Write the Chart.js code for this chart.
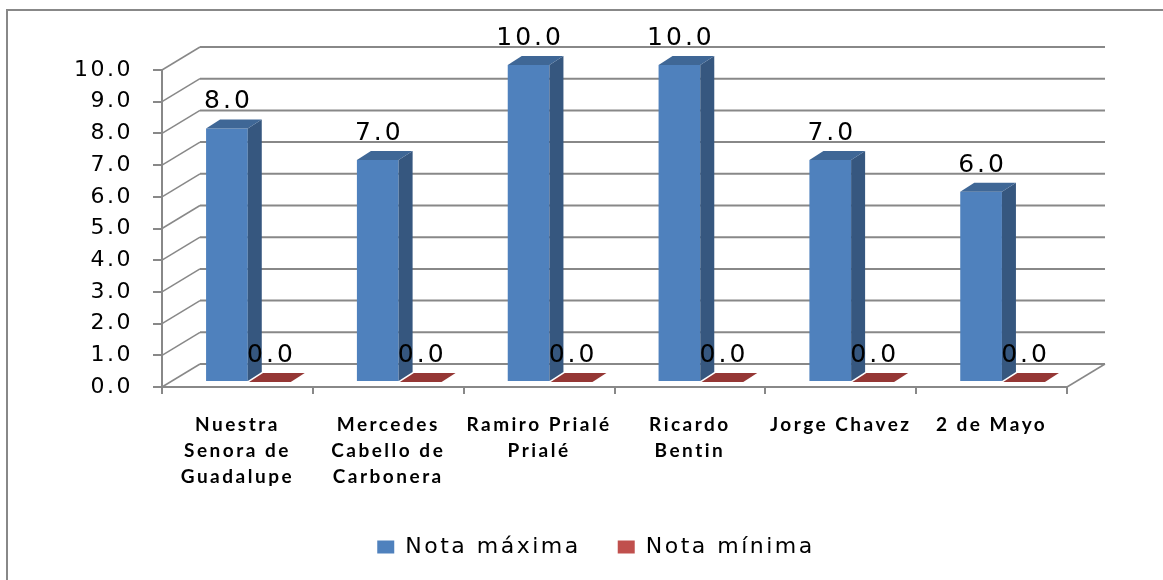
<!DOCTYPE html>
<html>
<head>
<meta charset="utf-8">
<script src="https://cdn.jsdelivr.net/npm/chart.js@4.4.0/dist/chart.umd.min.js"></script>
<style>
    html, body { margin: 0; padding: 0; background: #fff; }
    #wrap { width: 1163px; height: 580px; position: relative; }
</style>
</head>
<body>
<div id="wrap"><canvas id="notasChart"></canvas></div>
<script>
const categorias = [
    ['Nuestra', 'Senora de', 'Guadalupe'],
    ['Mercedes', 'Cabello de', 'Carbonera'],
    ['Ramiro Prialé', 'Prialé'],
    ['Ricardo', 'Bentin'],
    ['Jorge Chavez'],
    ['2 de Mayo']
];
const notaMaxima = [8, 7, 10, 10, 7, 6];
const notaMinima = [0, 0, 0, 0, 0, 0];
const series = ['Nota máxima', 'Nota mínima'];

const GRIS = '#888888';
const PARED = { dx: 38, dy: -23 };   // fondo del grafico
const BARRA = { dx: 11, dy: -5 };    // plano frontal de las barras
const FONDO = { dx: 14, dy: -9 };    // profundidad de cada barra
const caras = [
    { lado: '#36577f', tapa: '#3f6796' },
    { lado: '#7a2c2a', tapa: '#953735' }
];

function poligono(ctx, pts, color) {
    ctx.beginPath();
    ctx.moveTo(pts[0][0], pts[0][1]);
    pts.slice(1).forEach(p => ctx.lineTo(p[0], p[1]));
    ctx.closePath();
    ctx.fillStyle = color;
    ctx.fill();
}

const tresD = {
    id: 'tresD',
    beforeLayout(chart) {
        chart.ctx.letterSpacing = '2.5px';
    },
    beforeDraw(chart) {
        const ctx = chart.ctx;
        const { left, right, bottom } = chart.chartArea;
        const y = chart.scales.y;
        ctx.save();
        ctx.fillStyle = '#fff';
        ctx.fillRect(0, 0, chart.width, chart.height);
        ctx.strokeStyle = GRIS;
        ctx.lineWidth = 2;
        ctx.strokeRect(7, 10, chart.width, chart.height);
        y.ticks.forEach(t => {
            const py = y.getPixelForValue(t.value);
            ctx.lineWidth = 2;
            ctx.beginPath();
            ctx.moveTo(left + PARED.dx, py + PARED.dy);
            ctx.lineTo(right + PARED.dx, py + PARED.dy);
            ctx.stroke();
            ctx.lineWidth = 1.5;
            ctx.beginPath();
            ctx.moveTo(left, py);
            ctx.lineTo(left + PARED.dx, py + PARED.dy);
            ctx.stroke();
        });
        ctx.beginPath();
        ctx.moveTo(right, bottom);
        ctx.lineTo(right + PARED.dx, bottom + PARED.dy);
        ctx.stroke();
        ctx.restore();
        ctx.letterSpacing = '2.5px';
    },
    beforeDatasetsDraw(chart) {
        chart.ctx.save();
        chart.ctx.translate(BARRA.dx, BARRA.dy);
    },
    afterDatasetsDraw(chart) {
        const ctx = chart.ctx;
        ctx.restore();
        chart.data.datasets.forEach((ds, i) => {
            chart.getDatasetMeta(i).data.forEach(bar => {
                const { x, y, base, width } = bar.getProps(['x', 'y', 'base', 'width'], true);
                const l = x - width / 2 + BARRA.dx, r = x + width / 2 + BARRA.dx;
                const t = y + BARRA.dy, b = base + BARRA.dy;
                poligono(ctx, [[r, t], [r + FONDO.dx, t + FONDO.dy], [r + FONDO.dx, b + FONDO.dy], [r, b]], caras[i].lado);
                poligono(ctx, [[l, t], [l + FONDO.dx, t + FONDO.dy], [r + FONDO.dx, t + FONDO.dy], [r, t]], caras[i].tapa);
            });
        });
        ctx.save();
        ctx.font = '25px "DejaVu Sans"';
        ctx.letterSpacing = '3px';
        ctx.fillStyle = '#000';
        ctx.textAlign = 'center';
        ctx.textBaseline = 'alphabetic';
        chart.data.datasets.forEach((ds, i) => {
            chart.getDatasetMeta(i).data.forEach((bar, j) => {
                const { x, y } = bar.getProps(['x', 'y'], true);
                ctx.fillText(ds.data[j].toFixed(1), x + BARRA.dx + 1.5, y + BARRA.dy - 20);
            });
        });
        ctx.restore();
        ctx.letterSpacing = '2.5px';
    }
};

new Chart(document.getElementById('notasChart'), {
    type: 'bar',
    data: {
        labels: categorias,
        datasets: [{
            label: series[0],
            data: notaMaxima,
            backgroundColor: '#4F81BD',
            barPercentage: 0.97,
            categoryPercentage: 0.57
        }, {
            label: series[1],
            data: notaMinima,
            backgroundColor: '#C0504D',
            barPercentage: 0.97,
            categoryPercentage: 0.57
        }]
    },
    options: {
        responsive: true,
        maintainAspectRatio: false,
        animation: false,
        layout: { padding: { left: 60, right: 31, top: 70, bottom: 12 } },
        plugins: {
            tooltip: { enabled: false },
            legend: {
                position: 'bottom',
                labels: {
                    boxWidth: 17,
                    boxHeight: 13,
                    padding: 37,
                    color: '#000',
                    font: { family: '"DejaVu Sans"', size: 22 }
                }
            }
        },
        scales: {
            x: {
                afterFit: s => { s.height = 112; },
                grid: { drawOnChartArea: false, tickLength: 7, color: GRIS, lineWidth: 2 },
                border: { display: true, color: GRIS, width: 2 },
                ticks: {
                    z: 1,
                    padding: 18,
                    color: '#000',
                    maxRotation: 0,
                    font: { family: 'Lato', weight: 'bold', size: 19, lineHeight: 1.37 }
                }
            },
            y: {
                min: 0,
                max: 10,
                afterFit: s => { s.width = 102; },
                grid: { drawOnChartArea: false, tickLength: 9, color: GRIS, lineWidth: 2 },
                border: { display: true, color: GRIS, width: 2 },
                ticks: {
                    z: 1,
                    stepSize: 1,
                    padding: 20,
                    color: '#000',
                    font: { family: '"DejaVu Sans"', size: 22 },
                    callback: v => v.toFixed(1)
                }
            },
            // eje vacio: solo reserva el espacio a la derecha del fondo
            margen: {
                type: 'linear',
                position: 'right',
                afterFit: s => { s.width = 65; },
                grid: { display: false },
                border: { display: false },
                ticks: { display: false }
            }
        }
    },
    plugins: [tresD]
});
</script>
</body>
</html>
